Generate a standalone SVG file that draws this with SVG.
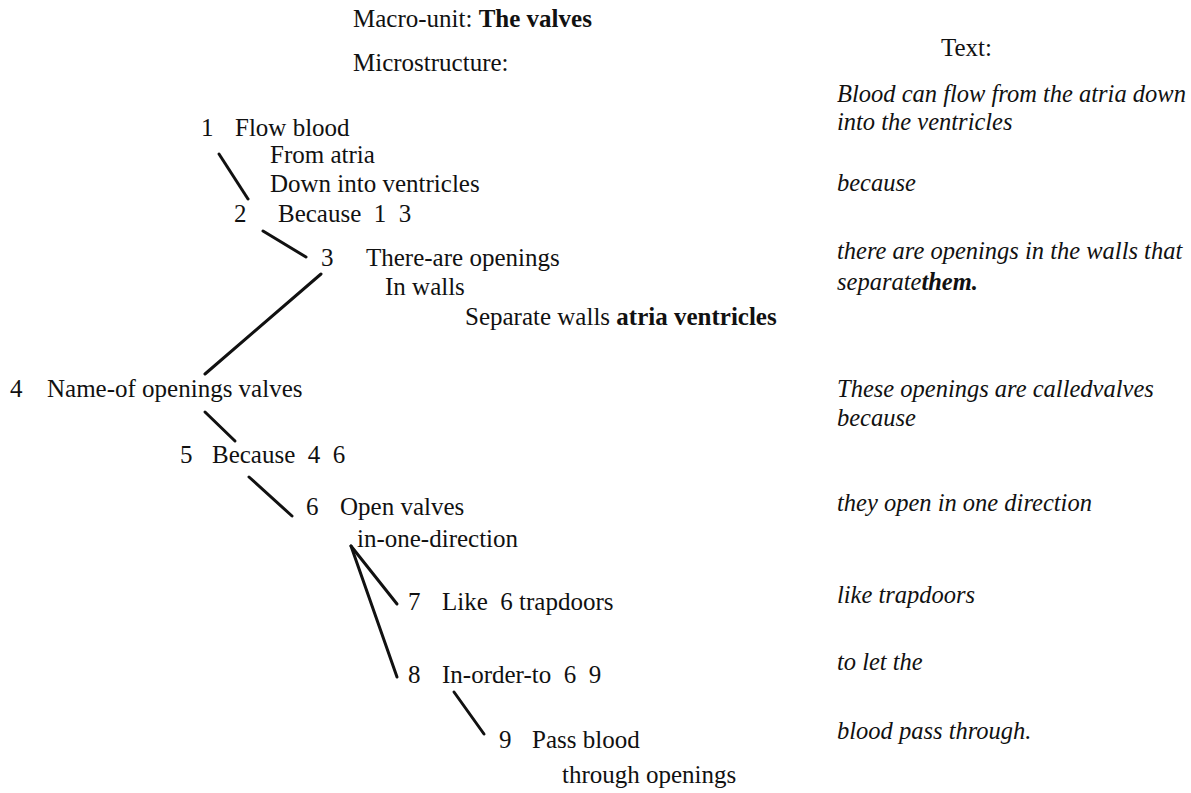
<svg xmlns="http://www.w3.org/2000/svg" width="1191" height="793" viewBox="0 0 1191 793">
<style>
text{font-family:"Liberation Serif","Times New Roman",serif;font-size:25px;fill:#111;white-space:pre}
.i{font-style:italic;font-size:24.5px}
.b{font-weight:bold}
.c line{stroke:#111;stroke-width:3;stroke-linecap:round}
</style>
<rect width="1191" height="793" fill="#fff"/>
<g id="header">
<text x="353" y="27">Macro-unit: <tspan class="b">The valves</tspan></text>
<text x="353" y="71">Microstructure:</text>
<text x="941" y="56">Text:</text>
</g>
<g id="n1"><text x="201" y="136">1</text><text x="235" y="136">Flow blood</text><text x="270" y="163">From atria</text><text x="270" y="192">Down into ventricles</text></g>
<g id="n2"><text x="234" y="222">2</text><text x="278" y="222" xml:space="preserve">Because  1  3</text></g>
<g id="n3"><text x="321" y="266">3</text><text x="366" y="266">There-are openings</text><text x="385" y="295">In walls</text><text x="465" y="325">Separate walls <tspan class="b">atria ventricles</tspan></text></g>
<g id="n4"><text x="10" y="397">4</text><text x="47" y="397">Name-of openings valves</text></g>
<g id="n5"><text x="180" y="463">5</text><text x="212" y="463" xml:space="preserve">Because  4  6</text></g>
<g id="n6"><text x="306" y="515">6</text><text x="340" y="515">Open valves</text><text x="357" y="547">in-one-direction</text></g>
<g id="n7"><text x="408" y="610">7</text><text x="442" y="610" xml:space="preserve">Like  6 trapdoors</text></g>
<g id="n8"><text x="408" y="683">8</text><text x="442" y="683" xml:space="preserve">In-order-to  6  9</text></g>
<g id="n9"><text x="499" y="748">9</text><text x="532" y="748">Pass blood</text><text x="562" y="783">through openings</text></g>
<g id="textcol">
<text class="i" x="837" y="102">Blood can flow from the atria down</text>
<text class="i" x="837" y="130">into the ventricles</text>
<text class="i" x="837" y="191">because</text>
<text class="i" x="837" y="259">there are openings in the walls that</text>
<text class="i" x="837" y="290">separate<tspan class="b">them.</tspan></text>
<text class="i" x="837" y="397">These openings are calledvalves</text>
<text class="i" x="837" y="426">because</text>
<text class="i" x="837" y="511">they open in one direction</text>
<text class="i" x="837" y="603">like trapdoors</text>
<text class="i" x="837" y="670">to let the</text>
<text class="i" x="837" y="739">blood pass through.</text>
</g>
<g id="connectors" class="c">
<line x1="219" y1="154" x2="248" y2="199"/>
<line x1="263" y1="231" x2="306" y2="257"/>
<line x1="321" y1="274" x2="205" y2="374"/>
<line x1="205" y1="412" x2="235" y2="441"/>
<line x1="249" y1="477" x2="292" y2="516"/>
<line x1="351" y1="546" x2="397" y2="604"/>
<line x1="351" y1="546" x2="397" y2="677"/>
<line x1="454" y1="692" x2="484" y2="734"/>
</g>
</svg>
